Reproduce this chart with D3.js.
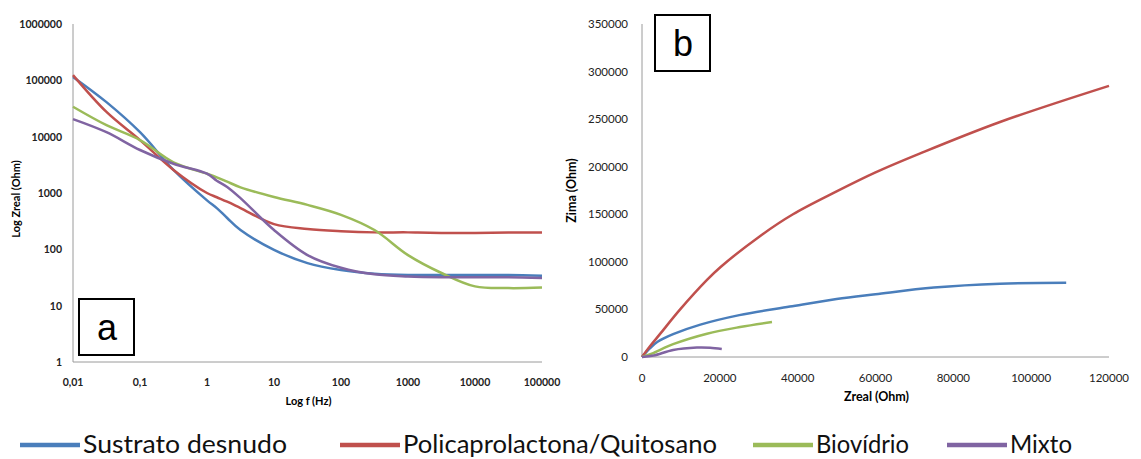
<!DOCTYPE html>
<html>
<head>
<meta charset="utf-8">
<script src="https://cdn.jsdelivr.net/npm/d3@7"></script>
<style>
  body { margin: 0; background: #fff; }
  svg { display: block; font-family: Lato, "Open Sans", sans-serif; }
</style>
</head>
<body>
<div id="wrapper"></div>
<script>
// series names + colours (legend order)
const seriesNames = ["Sustrato desnudo", "Policaprolactona/Quitosano", "Biovídrio", "Mixto"];
const seriesColors = ["#4a7ebb", "#c0504d", "#9bbb59", "#8064a2"];

// chart a: Zreal vs frequency (log-log)
const freq = [0.01, 0.0316, 0.1, 0.316, 1, 1.4, 2, 3.16, 10, 31.6, 100, 316, 1000, 3162, 10000, 31623, 100000];
const zrealSustrato = [115000, 41000, 12000, 2570, 740, 540, 360, 220, 98, 57, 43, 37, 35, 35, 35, 35, 34];
const zrealPolicap  = [124000, 27500, 8700, 2570, 1000, 840, 700, 540, 280, 230, 210, 200, 200, 195, 195, 198, 198];
const zrealBiovid   = [34000, 16000, 8700, 3500, 2200, 1900, 1590, 1260, 850, 615, 410, 220, 79, 38, 22, 20.5, 21];
const zrealMixto    = [20500, 12000, 5800, 3300, 2200, 1650, 1280, 810, 220, 79, 47, 36, 33, 32, 32, 32, 31];
const yTicksA = [1, 10, 100, 1000, 10000, 100000, 1000000];
const xTicksA = [0.01, 0.1, 1, 10, 100, 1000, 10000, 100000];

// chart b: Nyquist, Zima vs Zreal
const nyqSustratoRe = [0, 2000, 4000, 8000, 15000, 25000, 38000, 50000, 60000, 75000, 92000, 109000];
const nyqSustratoIm = [0, 9000, 16000, 24000, 34000, 44000, 53000, 61000, 66000, 73000, 77000, 78000];
const nyqPolicapRe  = [0, 2000, 4600, 9800, 16700, 20200, 30300, 38800, 50000, 60000, 71500, 92000, 120000];
const nyqPolicapIm  = [0, 11000, 24000, 50000, 81000, 94600, 127000, 150000, 174000, 194000, 214000, 247000, 285000];
const nyqBiovidRe   = [0, 2500, 8000, 16700, 25200, 33400];
const nyqBiovidIm   = [0, 3500, 13500, 24500, 31500, 36800];
const nyqMixtoRe    = [0, 3000, 8000, 14100, 17500, 20500];
const nyqMixtoIm    = [0, 1500, 7400, 10000, 9800, 8400];
const xTicksB = [0, 20000, 40000, 60000, 80000, 100000, 120000];
const yTicksB = [0, 50000, 100000, 150000, 200000, 250000, 300000, 350000];

const width = 1141, height = 459;
const svg = d3.select("#wrapper").append("svg")
    .attr("width", width)
    .attr("height", height);

const axisColor = "#9a9a9a";

// ---------- chart a ----------
const a = { left: 73, right: 542, top: 24, bottom: 362 };
const xA = d3.scaleLog().domain([0.01, 100000]).range([a.left, a.right]);
const yA = d3.scaleLog().domain([1, 1000000]).range([a.bottom, a.top]);

const gA = svg.append("g");
gA.append("line").attr("x1", a.left).attr("x2", a.left).attr("y1", a.top).attr("y2", a.bottom)
    .attr("stroke", axisColor);
gA.append("line").attr("x1", a.left).attr("x2", a.right).attr("y1", a.bottom).attr("y2", a.bottom)
    .attr("stroke", axisColor);

gA.selectAll(".ytA").data(yTicksA).join("text")
    .attr("x", a.left - 11)
    .attr("y", d => yA(d) + 4)
    .attr("text-anchor", "end")
    .attr("font-size", 10.5).attr("font-weight", "bold").attr("fill", "#222")
    .text(d => d);

gA.selectAll(".xtA").data(xTicksA).join("text")
    .attr("x", d => xA(d))
    .attr("y", a.bottom + 24)
    .attr("text-anchor", "middle")
    .attr("font-size", 10.5).attr("font-weight", "bold").attr("fill", "#222")
    .text(d => String(d).replace(".", ","));

gA.append("text")
    .attr("x", (a.left + a.right) / 2 + 1).attr("y", 405)
    .attr("text-anchor", "middle").attr("font-size", 11).attr("font-weight", "bold")
    .text("Log f (Hz)");
gA.append("text")
    .attr("transform", `translate(20,${(a.top + a.bottom) / 2 + 6}) rotate(-90)`)
    .attr("text-anchor", "middle").attr("font-size", 11).attr("font-weight", "bold")
    .text("Log Zreal (Ohm)");

const seriesA = [zrealSustrato, zrealPolicap, zrealBiovid, zrealMixto];
const lineA = d3.line()
    .x((d, i) => xA(freq[i]))
    .y(d => yA(d))
    .curve(d3.curveCatmullRom.alpha(0.5));
seriesA.forEach((s, i) => {
    gA.append("path")
        .attr("d", lineA(s))
        .attr("fill", "none")
        .attr("stroke", seriesColors[i])
        .attr("stroke-width", 2.5);
});

gA.append("rect").attr("x", 79).attr("y", 299).attr("width", 55).attr("height", 56)
    .attr("fill", "#fff").attr("stroke", "#000").attr("stroke-width", 2);
gA.append("text").attr("x", 107).attr("y", 340).attr("text-anchor", "middle")
    .attr("font-family", "Liberation Sans, Arial, sans-serif").attr("font-size", 36)
    .text("a");

// ---------- chart b ----------
const b = { left: 642, right: 1109, top: 24, bottom: 357 };
const xB = d3.scaleLinear().domain([0, 120000]).range([b.left, b.right]);
const yB = d3.scaleLinear().domain([0, 350000]).range([b.bottom, b.top]);

const gB = svg.append("g");
gB.append("line").attr("x1", b.left).attr("x2", b.left).attr("y1", b.top).attr("y2", b.bottom)
    .attr("stroke", axisColor);
gB.append("line").attr("x1", b.left).attr("x2", b.right).attr("y1", b.bottom).attr("y2", b.bottom)
    .attr("stroke", axisColor);

gB.selectAll(".ytB").data(yTicksB).join("text")
    .attr("x", b.left - 14)
    .attr("y", d => yB(d) + 4)
    .attr("text-anchor", "end")
    .attr("font-size", 11.5).attr("fill", "#222")
    .text(d => d);

gB.selectAll(".xtB").data(xTicksB).join("text")
    .attr("x", d => xB(d))
    .attr("y", b.bottom + 25)
    .attr("text-anchor", "middle")
    .attr("font-size", 11.5).attr("fill", "#222")
    .text(d => d);

gB.append("text")
    .attr("x", (b.left + b.right) / 2 + 1).attr("y", 401)
    .attr("text-anchor", "middle").attr("font-size", 12.5).attr("font-weight", "bold")
    .text("Zreal (Ohm)");
gB.append("text")
    .attr("transform", `translate(576,${(b.top + b.bottom) / 2}) rotate(-90)`)
    .attr("text-anchor", "middle").attr("font-size", 12.5).attr("font-weight", "bold")
    .text("Zima (Ohm)");

const seriesB = [
    [nyqSustratoRe, nyqSustratoIm],
    [nyqPolicapRe, nyqPolicapIm],
    [nyqBiovidRe, nyqBiovidIm],
    [nyqMixtoRe, nyqMixtoIm]
];
seriesB.forEach(([re, im], i) => {
    const lineB = d3.line()
        .x((d, j) => xB(re[j]))
        .y(d => yB(d))
        .curve(d3.curveCatmullRom.alpha(0.5));
    gB.append("path")
        .attr("d", lineB(im))
        .attr("fill", "none")
        .attr("stroke", seriesColors[i])
        .attr("stroke-width", 2.5);
});

gB.append("rect").attr("x", 655).attr("y", 15).attr("width", 55).attr("height", 56)
    .attr("fill", "#fff").attr("stroke", "#000").attr("stroke-width", 2);
gB.append("text").attr("x", 683).attr("y", 56).attr("text-anchor", "middle")
    .attr("font-family", "Liberation Sans, Arial, sans-serif").attr("font-size", 36)
    .text("b");

// ---------- legend ----------
const legendX = [20, 340, 753, 947];
const legendW = [204, 314, 93, 62];
const legend = svg.append("g");
seriesNames.forEach((name, i) => {
    legend.append("line")
        .attr("x1", legendX[i]).attr("x2", legendX[i] + 60)
        .attr("y1", 445).attr("y2", 445)
        .attr("stroke", seriesColors[i]).attr("stroke-width", 4.5);
    legend.append("text")
        .attr("x", legendX[i] + 63).attr("y", 453)
        .attr("font-size", 25).attr("fill", "#111")
        .attr("textLength", legendW[i]).attr("lengthAdjust", "spacingAndGlyphs")
        .text(name);
});
</script>
</body>
</html>
